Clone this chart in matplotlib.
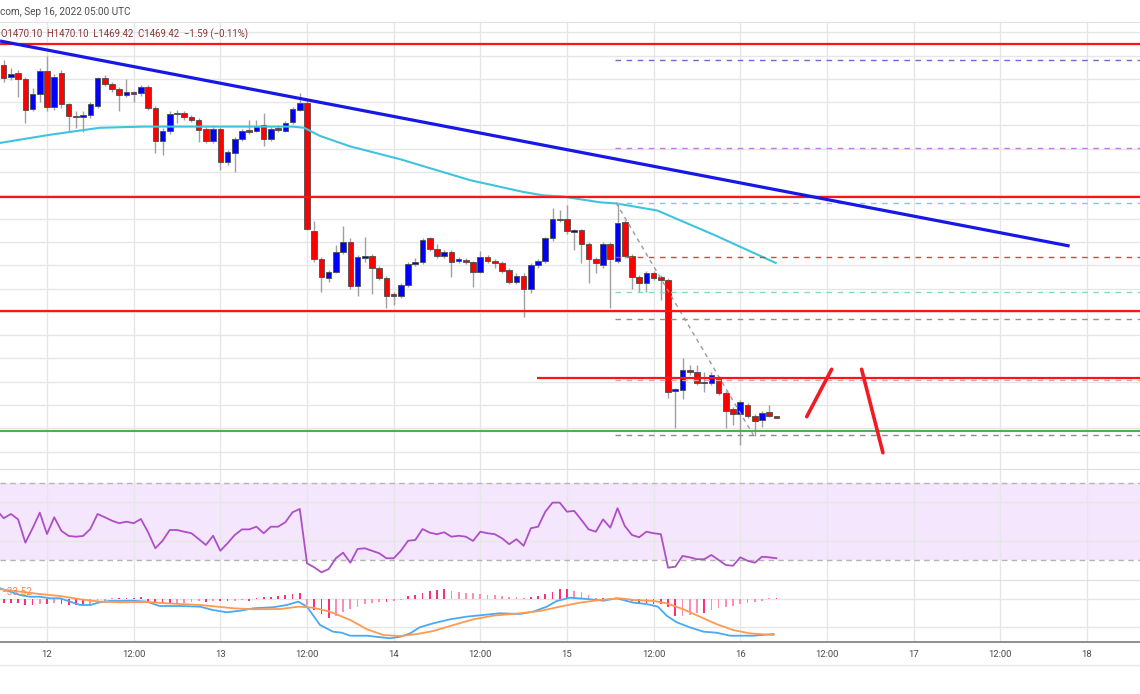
import matplotlib
matplotlib.use('Agg')
import matplotlib.pyplot as plt
import numpy as np
from matplotlib.lines import Line2D

plt.rcParams['font.family'] = ['Roboto', 'DejaVu Sans']

# hourly candles, hours counted from Sep 12 00:00 UTC
hours = np.arange(-6, 102)
opens = [1772, 1762, 1765, 1760, 1734, 1747, 1767, 1736, 1765, 1738, 1728, 1727, 1729, 1737, 1761, 1756,
         1751, 1746, 1749, 1748, 1753, 1735, 1707, 1715, 1730, 1731, 1727, 1725, 1717, 1707, 1717, 1689,
         1696, 1708, 1716, 1715, 1720, 1708, 1718, 1715, 1723, 1733, 1739, 1629, 1605, 1589, 1594, 1611,
         1620, 1582, 1606, 1608, 1598, 1589, 1575, 1574, 1583, 1601, 1603, 1623, 1614, 1608, 1611, 1604,
         1604, 1603, 1594, 1607, 1604, 1602, 1596, 1586, 1591, 1580, 1600, 1604, 1623, 1640, 1640, 1629,
         1630, 1618, 1605, 1600, 1618, 1604, 1637, 1608, 1590, 1585, 1593, 1590, 1587, 1492, 1493, 1510,
         1508, 1499, 1499, 1503, 1490, 1477, 1472, 1480, 1471, 1467, 1474, 1470.10]
highs = [1776, 1769, 1768, 1762, 1752, 1769, 1780, 1764, 1768, 1739, 1732, 1732, 1740, 1762, 1763, 1757,
         1753, 1760, 1750, 1755, 1755, 1737, 1718, 1732, 1733, 1732, 1729, 1726, 1719, 1719, 1719, 1699,
         1710, 1717, 1725, 1725, 1731, 1719, 1720, 1724, 1736, 1748, 1742, 1638, 1607, 1596, 1617, 1634,
         1623, 1609, 1624, 1610, 1599, 1591, 1577, 1585, 1603, 1606, 1623, 1624, 1618, 1613, 1613, 1607,
         1606, 1604, 1612, 1609, 1605, 1604, 1598, 1593, 1593, 1602, 1605, 1624, 1649, 1647, 1652, 1631,
         1631, 1620, 1607, 1620, 1620, 1653, 1639, 1610, 1592, 1595, 1595, 1592, 1589, 1495, 1520, 1514,
         1514, 1508, 1508, 1505, 1492, 1478, 1484, 1482, 1472, 1475, 1480, 1470.10]
lows = [1757, 1759, 1744, 1722, 1732, 1740, 1732, 1733, 1735, 1715, 1718, 1714, 1726, 1735, 1754, 1749,
        1732, 1744, 1740, 1745, 1733, 1696, 1695, 1713, 1722, 1725, 1723, 1706, 1705, 1705, 1682, 1686,
        1680, 1707, 1713, 1714, 1702, 1707, 1714, 1714, 1721, 1732, 1630, 1603, 1577, 1586, 1593, 1610,
        1580, 1574, 1603, 1575, 1587, 1563, 1566, 1572, 1581, 1599, 1601, 1612, 1606, 1606, 1590, 1602,
        1601, 1581, 1593, 1602, 1598, 1593, 1584, 1584, 1556, 1576, 1598, 1602, 1621, 1637, 1627, 1613,
        1602, 1585, 1593, 1598, 1563, 1602, 1606, 1580, 1577, 1577, 1587, 1570, 1486, 1460, 1485, 1506,
        1497, 1491, 1497, 1489, 1460, 1463, 1446, 1469, 1453, 1461, 1470, 1469.42]
closes = [1761, 1764, 1760, 1733, 1747, 1767, 1736, 1762, 1738, 1728, 1727, 1729, 1738, 1761, 1756, 1751,
          1746, 1749, 1747, 1753, 1735, 1707, 1715, 1730, 1731, 1727, 1725, 1716, 1707, 1717, 1689, 1697,
          1708, 1715, 1714, 1719, 1708, 1717, 1716, 1722, 1734, 1739, 1631, 1605, 1590, 1594, 1611, 1620,
          1582, 1607, 1608, 1598, 1589, 1574, 1574, 1583, 1601, 1603, 1622, 1614, 1608, 1611, 1603, 1605,
          1603, 1594, 1607, 1604, 1602, 1595, 1586, 1591, 1580, 1600, 1604, 1623, 1640, 1639, 1629, 1630,
          1618, 1605, 1602, 1618, 1605, 1636, 1608, 1590, 1585, 1593, 1589, 1587, 1491, 1494, 1510, 1508,
          1499, 1500, 1506, 1490, 1475, 1472, 1483, 1471, 1466, 1473, 1471, 1469.42]

# moving average (cyan)
ma_hours = [-6.5, 0.4, 7.3, 13.3, 21.2, 28.1, 34.0, 35.6, 37.8, 42.0, 48.9, 58.6, 65.9, 68.7, 71.4,
            76.6, 78.9, 84.5, 92.4, 100.9]
ma_values = [1705, 1712, 1718, 1719, 1719, 1719, 1719, 1718, 1711, 1702, 1691, 1673, 1663, 1660, 1659,
             1654, 1653, 1647, 1626, 1602]

# drawn levels
red_levels = [1790, 1659, 1561]
red_short_level = 1503.5
red_short_start = 67.8
green_level = 1457.7
trend_hours = [-6.5, 141.6]
trend_prices = [1792.5, 1616.5]
fib_start = 78.7
fib_levels = [1454.3, 1501.5, 1553.9, 1577.3, 1606.8, 1653.7, 1700.4, 1776.6]
fib_colors = ['#8c8c8c', '#e8a0a0', '#a88888', '#7fdcc0', '#ee3b3b', '#80c6f0', '#c678e0', '#6a6ad0']
fib_diag_hours = [78.8, 97.8]
fib_diag_prices = [1653.7, 1454.3]
stroke_up_hours = [105.2, 108.65]
stroke_up_prices = [1470.0, 1510.7]
stroke_down_hours = [112.8, 115.75]
stroke_down_prices = [1510.7, 1439.1]

# RSI
rsi_hours = np.arange(-7, 102)
rsi = [56.0, 51.7, 53.9, 51.1, 39.0, 46.5, 54.6, 43.5, 52.2, 45.1, 42.5, 42.1, 42.5, 46.1, 53.9, 52.2,
       50.4, 49.1, 49.9, 49.1, 51.3, 44.4, 36.1, 40.0, 45.6, 45.6, 44.7, 43.9, 40.9, 37.8, 42.6, 34.8,
       38.7, 43.0, 45.9, 45.9, 47.3, 43.9, 47.3, 47.3, 49.6, 54.8, 56.5, 28.3, 26.2, 23.6, 25.3, 30.9,
       33.8, 28.6, 35.7, 36.1, 34.8, 33.5, 30.9, 30.9, 34.8, 40.0, 40.4, 46.1, 44.2, 43.4, 44.4, 42.1,
       42.6, 42.1, 39.9, 44.7, 43.9, 43.4, 41.3, 38.2, 40.8, 37.4, 46.5, 47.3, 55.1, 59.8, 59.8, 55.1,
       55.5, 50.8, 45.9, 44.7, 51.1, 46.8, 56.9, 47.7, 43.0, 41.8, 44.7, 43.9, 43.4, 26.0, 26.5, 32.1,
       31.4, 30.4, 30.4, 32.6, 30.0, 27.4, 27.0, 31.4, 29.6, 28.6, 31.7, 31.4, 30.9]

# MACD
hist = [-3.0, -3.0, -3.6, -5.1, -5.1, -4.5, -4.5, -3.6, -4.2, -5.1, -5.1, -5.1, -4.5, -2.4, -1.5, 0.9,
        0.9, 1.2, 1.5, 2.1, -2.1, -2.4, -3.6, -4.2, -3.6, -3.0, -2.1, -1.8, -2.1, -1.2, -1.2, -1.5,
        -1.2, -0.9, -1.2, 1.2, 1.8, 2.4, 3.0, 3.9, 4.5, 5.4, -5.1, -9.5, -13.4, -16.4, -14.6, -11.0,
        -8.9, -6.5, -4.2, -3.0, -2.1, -2.1, -1.5, -1.0, 3.0, 3.9, 6.0, 7.7, 8.3, 8.9, 7.4, 6.8,
        6.0, 5.4, 4.8, 4.2, 3.9, 3.0, 2.4, 1.8, 1.5, 2.1, 3.0, 4.5, 6.3, 8.9, 8.9, 7.7,
        6.5, 3.9, 1.5, 1.5, 0.9, 0.6, -0.6, -1.5, -3.0, -3.6, -4.2, -4.2, -6.5, -14.9, -14.6, -14.0,
        -12.5, -12.5, -9.5, -8.0, -6.5, -6.0, -4.5, -3.0, -2.4, -1.5, 0.9, 1.5]
macd_hours = [-6.5, -3.7, -2.4, -1.0, 0.4, 1.8, 3.2, 4.6, 6.0, 7.3, 8.7, 10.1, 11.9, 13.8, 15.6, 18.4,
              21.2, 23.0, 24.9, 26.7, 28.6, 31.3, 33.2, 34.8, 36.0, 37.8, 39.6, 40.8, 42.0, 44.3, 47.5,
              48.9, 50.3, 51.6, 53.5, 55.8, 58.1, 60.4, 62.7, 65.5, 67.3, 69.2, 70.6, 72.4, 74.7, 77.0,
              78.9, 81.2, 83.0, 84.6, 85.8, 87.2, 89.0, 90.9, 92.7, 94.6, 97.8, 100.6]
macd = [9.8, 3.8, 2.3, 2.3, 0.9, 0.9, -2.1, -5.1, -5.1, -2.7, -1.5, -1.5, -1.3, -2.1, -6.0, -6.0,
        -6.6, -9.6, -11.6, -10.2, -8.0, -7.1, -5.1, -2.1, -6.6, -22.9, -28.9, -29.8, -32.5, -32.5, -34.8,
        -33.4, -30.4, -25.0, -21.4, -17.9, -15.5, -14.0, -12.5, -13.1, -11.1, -6.6, -1.5, 1.4, 0.3, -1.3,
        0.9, -3.0, -4.2, -6.6, -14.6, -20.5, -25.0, -28.9, -29.8, -32.5, -32.5, -31.0]
signal_hours = [-6.5, -3.7, -1.0, 1.8, 4.6, 7.3, 10.1, 13.8, 16.6, 21.2, 25.8, 28.6, 32.3, 34.8, 36.9,
                39.2, 42.0, 44.3, 46.6, 48.9, 51.2, 53.5, 56.3, 59.0, 61.8, 65.5, 68.3, 71.0, 73.8, 76.6,
                79.3, 81.2, 84.0, 85.8, 88.1, 90.4, 92.7, 95.0, 97.3, 100.6]
signal = [8.9, 6.8, 4.7, 2.9, 0.0, -2.1, -2.7, -2.4, -3.6, -5.1, -8.0, -8.9, -8.7, -6.6, -7.5,
          -11.1, -18.5, -26.8, -31.9, -32.8, -31.0, -28.3, -22.9, -17.9, -14.6, -12.5, -10.4, -6.6, -3.0, -0.6,
          0.9, -0.6, -1.5, -3.6, -8.9, -15.5, -22.1, -27.4, -30.4, -31.9]

tick_hours = [0, 12, 24, 36, 48, 60, 72, 84, 96, 108, 120, 132, 144]
tick_labels = ['12', '12:00', '13', '12:00', '14', '12:00', '15', '12:00', '16', '12:00', '17', '12:00', '18']

W, H = 1140, 694
fig = plt.figure(figsize=(W / 100, H / 100), dpi=100)


def rect(top, bottom):
    return [0, (H - bottom) / H, 1, (bottom - top) / H]


ax = fig.add_axes(rect(22, 469))
ax_rsi = fig.add_axes(rect(469, 580), sharex=ax)
ax_macd = fig.add_axes(rect(580, 642), sharex=ax)

grid_c = '#e6e6e6'
for a in (ax, ax_rsi, ax_macd):
    a.set_axisbelow(True)
    a.grid(True, color=grid_c, lw=1)
    for s in a.spines.values():
        s.set_visible(False)
    a.tick_params(length=0, labelleft=False)
ax.spines['top'].set_visible(True)
ax.spines['top'].set_color('#e3e3e3')
for a in (ax_rsi, ax_macd):
    a.spines['top'].set_visible(True)
    a.spines['top'].set_color('#dedede')
ax_macd.spines['bottom'].set_visible(True)
ax_macd.spines['bottom'].set_color('#7d7d7d')
ax_macd.spines['bottom'].set_linewidth(1.2)

ax.set_xlim(-6.51, 151.35)
ax_macd.set_xticks(tick_hours, tick_labels)
ax_macd.tick_params(axis='x', pad=6, labelsize=6.8, labelcolor='#4a4a4a')
ax.tick_params(labelbottom=False)
ax_rsi.tick_params(labelbottom=False)

# ---- price pane
ax.set_ylim(1425.1, 1808.8)
ax.set_yticks(np.arange(1440, 1801, 20))

o = np.array(opens, dtype=float)
c = np.array(closes, dtype=float)
up = c > o
body_lo = np.minimum(o, c)
body_h = np.abs(c - o)
flat = body_h < 1.2
body_lo[flat] = (o[flat] + c[flat]) / 2 - 0.6
body_h[flat] = 1.2
ax.vlines(hours, lows, highs, color='#a0a0a0', lw=1, zorder=2)
ax.bar(hours, body_h, bottom=body_lo, width=0.78, color=np.where(up, '#0000ff', '#ff0000'),
       edgecolor='#4d4d4d', linewidth=0.6, zorder=3)

ax.plot(ma_hours, ma_values, color='#3ec4dd', lw=1.5, zorder=4)

for lvl, col in zip(fib_levels, fib_colors):
    ax.hlines(lvl, fib_start, 152, color=col, lw=1, linestyles=(0, (4, 4)), zorder=4)
ax.plot(fib_diag_hours, fib_diag_prices, color='#9a9a9a', lw=1, ls=(0, (3, 3)), zorder=4)

for lvl in red_levels:
    ax.axhline(lvl, color='#ff1414', lw=1.6, zorder=5)
ax.hlines(red_short_level, red_short_start, 152, color='#ff1414', lw=1.6, zorder=5)
ax.axhline(green_level, color='#4caf50', lw=1.5, zorder=5)
ax.plot(trend_hours, trend_prices, color='#1717e6', lw=2.3, zorder=6, solid_capstyle='butt')
ax.plot(stroke_up_hours, stroke_up_prices, color='#ee1c24', lw=2.6, zorder=6, solid_capstyle='round')
ax.plot(stroke_down_hours, stroke_down_prices, color='#ee1c24', lw=2.6, zorder=6, solid_capstyle='round')

# ---- RSI pane
ax_rsi.set_ylim(19.61, 77.27)
ax_rsi.set_yticks([40, 60])
ax_rsi.axhspan(30, 70, color='#f3e6fd', lw=0, zorder=0)
for lvl in (30, 70):
    ax_rsi.axhline(lvl, color='#b5b5b5', lw=1, ls=(0, (4, 3)), zorder=1)
ax_rsi.plot(rsi_hours, rsi, color='#ae4fc6', lw=1.3, zorder=3)

# ---- MACD pane
ax_macd.set_ylim(-38.1, 17.2)
ax_macd.set_yticks([-25, 0])
hist_arr = np.array(hist)
grow = np.abs(hist_arr) >= np.abs(np.concatenate([[0], hist_arr[:-1]]))
ax_macd.bar(hours, hist_arr, width=0.24, color=np.where(grow, '#ff2e7a', '#ff8db3'), lw=0, zorder=2)
ax_macd.plot(macd_hours, macd, color='#4aa9f2', lw=1.3, zorder=3)
ax_macd.plot(signal_hours, signal, color='#ff9a52', lw=1.3, zorder=3)

# ---- header / legend text
fig.text(0.0, 1 - 12 / H, 'com, Sep 16, 2022 05:00 UTC', fontsize=7.2, color='#4d4d4d', va='center')
fig.text(1 / W, 1 - 34 / H, 'O1470.10  H1470.10  L1469.42  C1469.42  \u22121.59 (\u22120.11%)',
         fontsize=6.9, color='#8a3535', va='center')
fig.text(1 / W, 1 - 592 / H, '\u221233.52', fontsize=7.2, color='#f58a4c', va='center')

fig.add_artist(Line2D([0, 1], [1 - 665 / H, 1 - 665 / H], color='#e6e6e6', lw=1))

fig.savefig('out.png', dpi=100)
